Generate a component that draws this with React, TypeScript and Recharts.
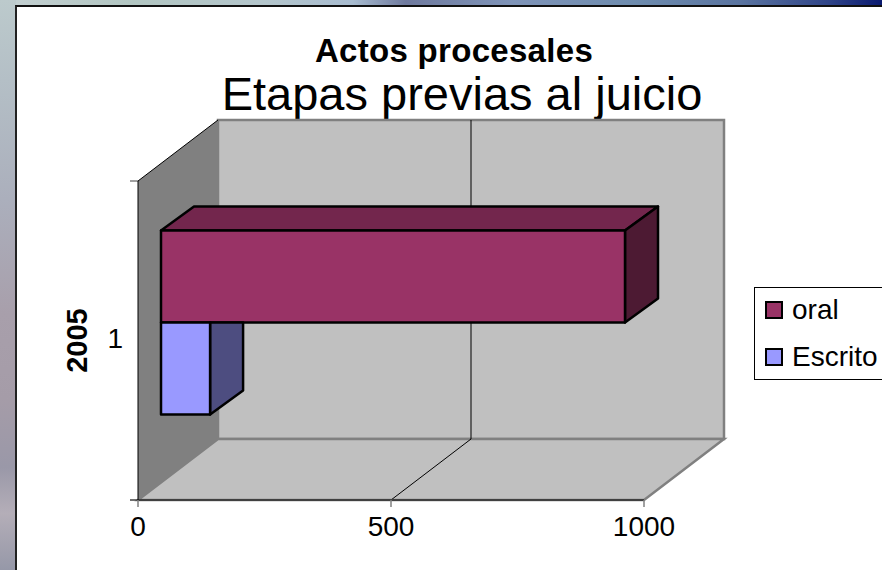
import { BarChart, Bar, XAxis, YAxis, Legend, ReferenceArea } from "recharts"

const categories = ["1"]
const oralValues = [917]
const escritoValues = [97]
const xTicks = [0, 500, 1000]
const gridValues = [500]

const chartData = categories.map((category, i) => ({
  category,
  oral: oralValues[i],
  Escrito: escritoValues[i],
}))

const FONT = '"Liberation Sans", Arial, sans-serif'

// depth of the room and of the bars, in px
const WALL_DX = 80
const WALL_DY = 61
const BAR_DX = 33
const BAR_DY = 24
const BAR_SHIFT_X = 23
const BAR_SHIFT_Y = -18.5

const colors = {
  oral: { front: "#993366", top: "#73264d", side: "#4d1a33" },
  Escrito: { front: "#9999ff", top: "#7373bf", side: "#4d4d80" },
}

function Room({ x, y, width, height }: any) {
  const bottom = y + height
  const right = x + width
  return (
    <g>
      <polygon
        points={`${x + WALL_DX},${y - WALL_DY} ${right + WALL_DX},${y - WALL_DY} ${right + WALL_DX},${bottom - WALL_DY} ${x + WALL_DX},${bottom - WALL_DY}`}
        fill="#c0c0c0"
        stroke="#808080"
        strokeWidth={2.5}
      />
      <polygon
        points={`${x},${bottom} ${x + WALL_DX},${bottom - WALL_DY} ${right + WALL_DX},${bottom - WALL_DY} ${right},${bottom}`}
        fill="#c0c0c0"
        stroke="#808080"
        strokeWidth={2.5}
      />
      <polygon
        points={`${x},${y} ${x + WALL_DX},${y - WALL_DY} ${x + WALL_DX},${bottom - WALL_DY} ${x},${bottom}`}
        fill="#808080"
      />
      <line x1={x} y1={y} x2={x + WALL_DX} y2={y - WALL_DY} stroke="#000" strokeWidth={1} />
      <line x1={x - 8} y1={y} x2={x} y2={y} stroke="#808080" strokeWidth={1.5} />
      <line x1={x - 8} y1={bottom} x2={x} y2={bottom} stroke="#404040" strokeWidth={1.5} />
    </g>
  )
}

function GridLine({ x, y, height }: any) {
  const bottom = y + height
  return (
    <g>
      <line x1={x + WALL_DX} y1={y - WALL_DY} x2={x + WALL_DX} y2={bottom - WALL_DY} stroke="#000" strokeWidth={1} />
      <line x1={x + WALL_DX} y1={bottom - WALL_DY} x2={x} y2={bottom} stroke="#000" strokeWidth={1} />
    </g>
  )
}

function Box3D({ x, y, width, height, palette, hideTop }: any) {
  const l = x + BAR_SHIFT_X
  const t = y + BAR_SHIFT_Y
  const r = l + width
  const b = t + height
  return (
    <g stroke="#000" strokeWidth={2.5} strokeLinejoin="round">
      {!hideTop && (
        <polygon
          points={`${l},${t} ${l + BAR_DX},${t - BAR_DY} ${r + BAR_DX},${t - BAR_DY} ${r},${t}`}
          fill={palette.top}
        />
      )}
      <polygon
        points={
          hideTop
            ? `${r},${t} ${r + BAR_DX},${t} ${r + BAR_DX},${b - BAR_DY} ${r},${b}`
            : `${r},${t} ${r + BAR_DX},${t - BAR_DY} ${r + BAR_DX},${b - BAR_DY} ${r},${b}`
        }
        fill={palette.side}
      />
      <rect x={l} y={t} width={width} height={height} fill={palette.front} />
    </g>
  )
}

function LegendBox({ payload }: any) {
  return (
    <div
      style={{
        width: 140,
        height: 93,
        boxSizing: "border-box",
        border: "1px solid #000",
        background: "#fff",
        fontFamily: FONT,
        fontSize: 28,
        color: "#000",
      }}
    >
      {(payload || []).map((item: any, i: number) => (
        <div key={item.value} style={{ position: "absolute", left: 11, top: 11 + i * 47, display: "flex", alignItems: "center", height: 24 }}>
          <span
            style={{
              width: 18,
              height: 18,
              boxSizing: "border-box",
              border: "2px solid #000",
              background: item.color,
              marginRight: 9,
            }}
          />
          {item.value}
        </div>
      ))}
    </div>
  )
}

export default function App() {
  return (
    <div style={{ position: "fixed", left: 0, top: 0, width: 882, height: 570, overflow: "hidden", background: "#fff" }}>
      {/* photo background showing round the slide panel */}
      <div
        style={{
          position: "absolute",
          left: 0,
          top: 0,
          width: 882,
          height: 6,
          background:
            "linear-gradient(90deg,#c4d0d2 0%,#b2c6c2 15%,#b4c6cc 30%,#a8bcd0 40%,#6f7a9e 46%,#7f94b8 58%,#6e8cae 72%,#5a74a0 84%,#2f4488 94%,#0a1a70 100%)",
        }}
      />
      <div
        style={{
          position: "absolute",
          left: 0,
          top: 0,
          width: 16,
          height: 570,
          background:
            "linear-gradient(180deg,#bccacc 0%,#b4bfc6 14%,#abafbc 35%,#a89fab 55%,#a59ca8 70%,#9a98a8 82%,#b4aeb8 90%,#9698a8 100%)",
        }}
      />
      <div style={{ position: "absolute", left: 15, top: 5, width: 867, height: 565, boxSizing: "border-box", borderLeft: "2px solid #222", borderTop: "2px solid #111" }} />

      <div style={{ position: "absolute", left: 154, top: 32, width: 600, textAlign: "center", fontFamily: FONT, fontWeight: 700, fontSize: 33, lineHeight: "38px", letterSpacing: 0.3, color: "#000" }}>
        Actos procesales
      </div>
      <div style={{ position: "absolute", left: 162, top: 66, width: 600, textAlign: "center", fontFamily: FONT, fontSize: 47, lineHeight: "56px", color: "#000" }}>
        Etapas previas al juicio
      </div>

      <div style={{ position: "absolute", left: 0, top: 0 }}>
        <BarChart
          width={882}
          height={570}
          data={chartData}
          layout="vertical"
          barSize={92}
          barGap={0}
          margin={{ top: 181, right: 238, bottom: 0, left: 60 }}
        >
          <ReferenceArea x1={0} x2={1000} ifOverflow="visible" shape={<Room />} />
          {gridValues.map((v) => (
            <ReferenceArea key={v} x1={v} x2={v} ifOverflow="visible" shape={<GridLine />} />
          ))}
          <XAxis
            type="number"
            domain={[0, 1000]}
            ticks={xTicks}
            height={70}
            tickSize={7}
            tickMargin={9}
            tick={{ fill: "#000", fontSize: 28, fontFamily: FONT }}
            axisLine={{ stroke: "#404040", strokeWidth: 2 }}
            tickLine={{ stroke: "#808080", strokeWidth: 1.5 }}
          />
          <YAxis
            type="category"
            dataKey="category"
            width={78}
            tickLine={false}
            tickMargin={9}
            tick={{ fill: "#000", fontSize: 28, fontFamily: FONT, dy: -2 }}
            axisLine={{ stroke: "#000", strokeWidth: 1 }}
            label={{
              value: "2005",
              angle: -90,
              position: "insideLeft",
              offset: 17,
              style: { fill: "#000", fontSize: 29, fontWeight: 700, fontFamily: FONT, textAnchor: "middle" },
            }}
          />
          <Legend
            layout="horizontal"
            align="center"
            verticalAlign="middle"
            itemSorter={null}
            wrapperStyle={{ left: 754, top: 287, width: 140, height: 93 }}
            content={<LegendBox />}
          />
          <Bar dataKey="oral" name="oral" fill={colors.oral.front} isAnimationActive={false} shape={<Box3D palette={colors.oral} />} />
          <Bar dataKey="Escrito" name="Escrito" fill={colors.Escrito.front} isAnimationActive={false} shape={<Box3D palette={colors.Escrito} hideTop />} />
        </BarChart>
      </div>
    </div>
  )
}
